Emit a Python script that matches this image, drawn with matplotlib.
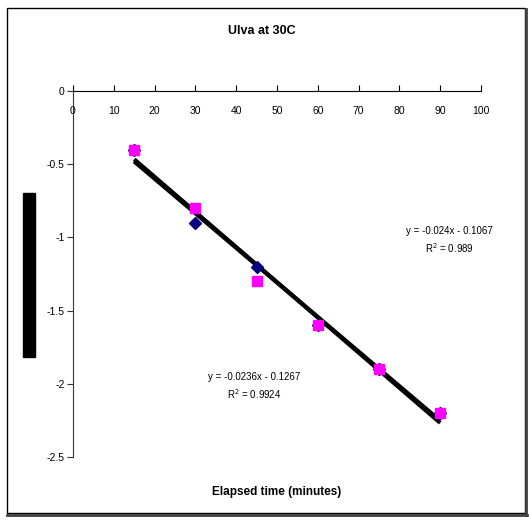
import numpy as np
import matplotlib
matplotlib.use('Agg')
import matplotlib.pyplot as plt
from matplotlib.patches import Rectangle
from matplotlib.lines import Line2D

plt.rcParams['font.family'] = ['Liberation Sans', 'DejaVu Sans']

# data
minutes = [15, 30, 45, 60, 75, 90]
series_navy = [-0.4, -0.9, -1.2, -1.6, -1.9, -2.2]
series_pink = [-0.4, -0.8, -1.3, -1.6, -1.9, -2.2]
x_ticks = [0, 10, 20, 30, 40, 50, 60, 70, 80, 90, 100]
y_ticks = [0, -0.5, -1, -1.5, -2, -2.5]
y_tick_labels = ['0', '-0.5', '-1', '-1.5', '-2', '-2.5']
eq_navy = ['y = -0.0236x - 0.1267', 'R$^2$ = 0.9924']
eq_pink = ['y = -0.024x - 0.1067', 'R$^2$ = 0.989']

W, H = 529, 520
fig = plt.figure(figsize=(W / 100, H / 100), dpi=100)

def fx(px):
    return px / W

def fy(py):
    return 1 - py / H

ax = fig.add_axes([fx(73), fy(457), fx(481) - fx(73), fy(91) - fy(457)])

# trendlines (least squares fit of each series)
xs = np.array([minutes[0], minutes[-1]])
for ys in (series_navy, series_pink):
    k, b = np.polyfit(minutes, ys, 1)
    ax.plot(xs, k * xs + b, color='black', lw=3, solid_capstyle='butt', zorder=2)

ax.plot(minutes, series_navy, linestyle='none', marker='D', markersize=6.5,
        color='#000080', zorder=3)
ax.plot(minutes, series_pink, linestyle='none', marker='s', markersize=7,
        color='#FF00FF', zorder=4)

ax.set_xlim(0, 100)
ax.set_ylim(-2.5, 0)
ax.set_xticks(x_ticks)
ax.set_yticks(y_ticks)
ax.set_yticklabels(y_tick_labels)

ax.spines['bottom'].set_position(('data', 0))
ax.spines['top'].set_visible(False)
ax.spines['right'].set_visible(False)
ax.spines['left'].set_color('#333333')
ax.tick_params(axis='x', direction='in', length=4, pad=11, labelsize=7.5)
ax.tick_params(axis='y', direction='out', length=4, pad=2, labelsize=7.5,
               color='#333333')

fig.text(fx(449), fy(231), eq_pink[0], fontsize=7, ha='center', va='center')
fig.text(fx(449), fy(248), eq_pink[1], fontsize=7, ha='center', va='center')
fig.text(fx(254), fy(377), eq_navy[0], fontsize=7, ha='center', va='center')
fig.text(fx(254), fy(394), eq_navy[1], fontsize=7, ha='center', va='center')

fig.text(fx(262), fy(31), 'Ulva at 30C', fontsize=9, fontweight='bold',
         ha='center', va='center')
fig.text(fx(277), fy(492), 'Elapsed time (minutes)', fontsize=8.5,
         fontweight='bold', ha='center', va='center')

# blacked-out y label
fig.add_artist(Rectangle((fx(23), fy(357)), fx(35) - fx(23), fy(193) - fy(357),
                         transform=fig.transFigure, color='black'))

# chart frame with shadow on right and bottom
fig.add_artist(Rectangle((fx(6.5), fy(513)), fx(525) - fx(6.5), fy(8) - fy(513),
                         transform=fig.transFigure, fill=False,
                         edgecolor='black', lw=1))
fig.add_artist(Line2D([fx(526), fx(526)], [fy(9), fy(515)],
                      transform=fig.transFigure, color='#404040', lw=2))
fig.add_artist(Line2D([fx(7), fx(527)], [fy(514.5), fy(514.5)],
                      transform=fig.transFigure, color='#404040', lw=2))

fig.savefig('out.png', dpi=100)
